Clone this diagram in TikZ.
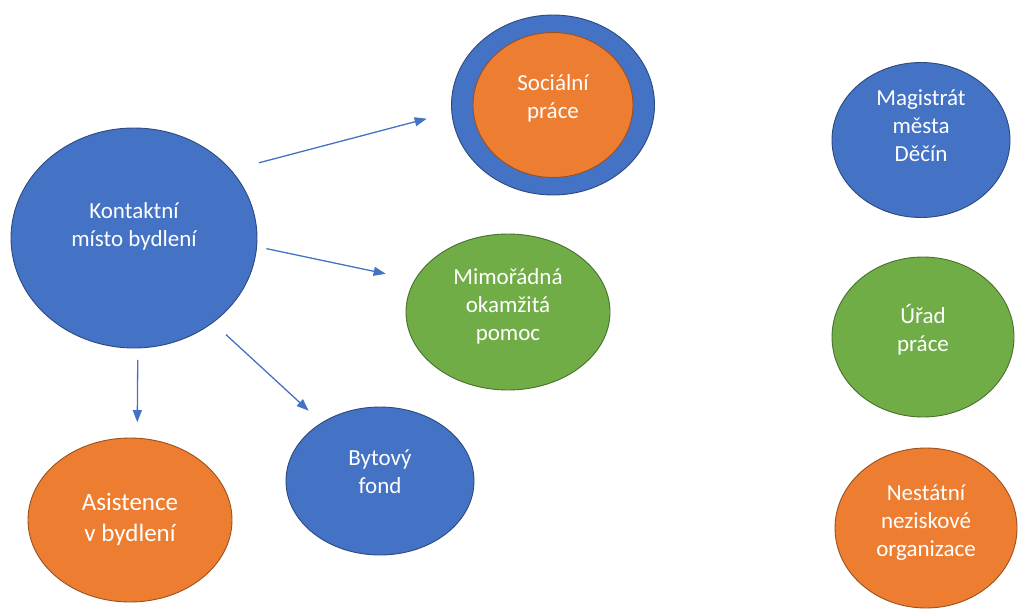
\documentclass[tikz,border=0pt]{standalone}
\usepackage{fontspec}
\setmainfont{Carlito}
\usetikzlibrary{shapes.geometric,arrows.meta}
\definecolor{modra}{HTML}{4472C4}
\definecolor{oranz}{HTML}{ED7D31}
\definecolor{zelena}{HTML}{70AD47}
\begin{document}
\begin{tikzpicture}[x = 1pt, y = -1pt,
    kruh/.style = {ellipse, draw = #1!65!black, fill = #1, line width = .9pt, inner sep = 0pt, outer sep = 0pt,
                   align = center, text = white, font = \fontsize{23}{28}\selectfont},
    sipka/.style = {draw = modra, line width = 1.3pt, -{Triangle[length = 12pt, width = 9pt]}}]

            \useasboundingbox (0,0) rectangle (1019,608);

            \node [kruh = modra, minimum width = 246pt, minimum height = 220pt, text depth = 26pt] (kontakt) at (134,238) {Kontaktní\\místo bydlení};
            \node [kruh = modra, minimum width = 203pt, minimum height = 180pt] (socialni) at (553,105) {};
            \node [kruh = oranz, minimum width = 160pt, minimum height = 145pt, text depth = 16pt] (socialniin) at (553,105) {Sociální\\práce};
            \node [kruh = zelena, minimum width = 204pt, minimum height = 156pt, text depth = 14pt] (mimoradna) at (508,312) {Mimořádná\\okamžitá\\pomoc};
            \node [kruh = modra, minimum width = 188pt, minimum height = 148pt, text depth = 18pt] (bytovy) at (380,481) {Bytový\\fond};
            \node [kruh = oranz, minimum width = 204pt, minimum height = 164pt, text depth = 6pt,
                   font = \fontsize{25}{31}\selectfont] (asistence) at (130,520) {Asistence\\v bydlení};

            % instituce vpravo
            \node [kruh = modra, minimum width = 178pt, minimum height = 155pt, text depth = 28pt] (magistrat) at (921,140) {Magistrát\\města\\Děčín};
            \node [kruh = zelena, minimum width = 182pt, minimum height = 160pt, text depth = 18pt] (urad) at (923,337) {Úřad\\práce};
            \node [kruh = oranz, minimum width = 182pt, minimum height = 160pt, text depth = 14pt] (nestatni) at (926,528) {Nestátní\\neziskové\\organizace};

            \draw [sipka, shorten < = 29pt, shorten > = 26pt] (kontakt.35.85) -- (socialni.184.9);
            \draw [sipka, shorten < = 10pt, shorten > = 30pt] (kontakt.-4.6) -- (mimoradna.161);
            \draw [sipka, shorten < = 18pt, shorten > = 18pt] (kontakt.-47.5) -- (bytovy.135.4);
            \draw [sipka, shorten < = 12pt, shorten > = 16pt] (kontakt.-88.6) -- (asistence.85.1);
\end{tikzpicture}
\end{document}
